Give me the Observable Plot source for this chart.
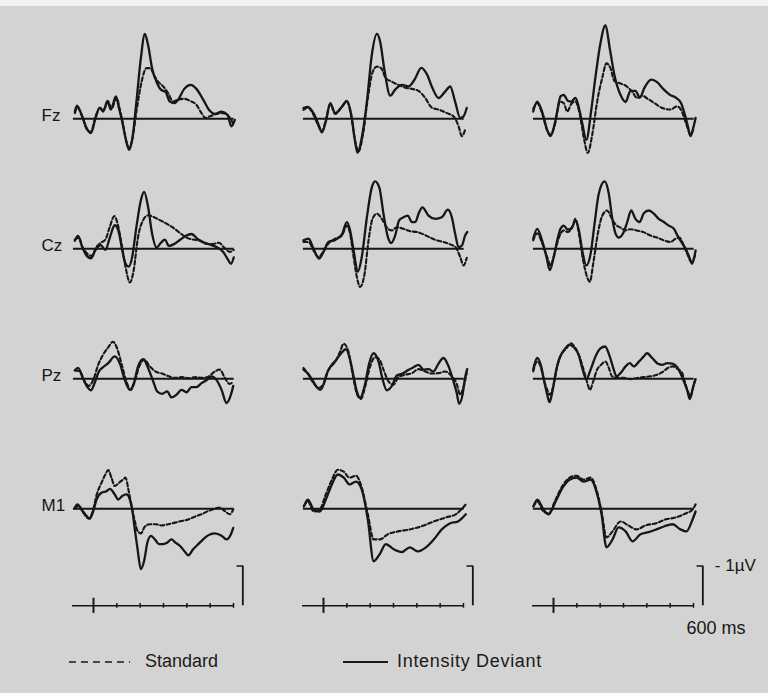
<!DOCTYPE html>
<html>
<head>
<meta charset="utf-8">
<script src="https://cdn.jsdelivr.net/npm/d3@7"></script>
<script src="https://cdn.jsdelivr.net/npm/@observablehq/plot@0.6"></script>
<style>
  body { margin: 0; background: #fff; }
  #wrap { position: relative; width: 768px; height: 693px; overflow: hidden;
          background: linear-gradient(#f2f2f2 0 6px, #d3d3d3 6px);
          font-family: "Liberation Sans", Arial, sans-serif; color: #1a1a1a; }
  #legend { position: relative; height: 53px; }
  #legend .item { position: absolute; top: 11px; font-size: 18px; line-height: 21px; }
  #legend svg { position: absolute; top: 21px; overflow: visible; }
</style>
</head>
<body>
<div id="wrap">
  <div id="chart"></div>
  <div id="legend">
    <svg style="left:69px" width="61" height="2"><line x1="0" x2="61" y1="1" y2="1" stroke="#1a1a1a" stroke-width="1.6" stroke-dasharray="7,5"/></svg>
    <span class="item" style="left:145px">Standard</span>
    <svg style="left:343px" width="45" height="2"><line x1="0" x2="45" y1="1" y2="1" stroke="#1a1a1a" stroke-width="1.8"/></svg>
    <span class="item" style="left:397px;letter-spacing:0.7px">Intensity Deviant</span>
  </div>
</div>
<script>
// ---- categories ----
const rows = ["Fz", "Cz", "Pz", "M1"];          // electrodes
const cols = ["1", "2", "3"];                   // three (unlabelled) conditions
const seriesNames = ["Standard", "Intensity Deviant"];
const timeTicks = [0, 100, 200, 300, 400, 500, 600];   // ms
const timeAxisExtent = [-90, 600];                      // ms
const scaleBarTime = 640;   // ms
const scaleBarSize = 1;     // µV
const scaleBarLabel = "- 1µV";
const timeLabel = "600 ms";

// ---- series values: [time ms, amplitude µV] ----
const Fz1_dev = [[-80,0.18],[-71,0.33],[-51,0.10],[-30,-0.23],[-11,-0.36],[9,0.02],[27,0.28],[41,0.18],[60,0.45],[74,0.23],[96,0.56],[109,0.27],[123,-0.07],[137,-0.48],[153,-0.78],[167,-0.48],[184,0.43],[203,1.52],[220,2.13],[234,1.85],[251,1.27],[270,0.93],[289,0.73],[309,0.67],[327,0.43],[346,0.39],[363,0.48],[389,0.75],[417,0.85],[441,0.75],[470,0.48],[494,0.23],[520,0.12],[549,0.18],[574,0.10],[591,-0.19],[606,-0.03]];
const Fz1_std = [[-80,0.14],[-69,0.28],[-49,0.06],[-27,-0.28],[-11,-0.33],[9,0.06],[27,0.27],[44,0.23],[63,0.43],[77,0.25],[99,0.52],[113,0.23],[127,-0.15],[141,-0.57],[151,-0.73],[166,-0.53],[184,0.18],[206,0.93],[227,1.27],[244,1.27],[260,1.08],[277,0.93],[299,0.81],[320,0.64],[341,0.43],[363,0.48],[389,0.50],[413,0.45],[441,0.35],[463,0.14],[480,0.02],[499,0.06],[527,0.12],[556,0.14],[580,0.06],[599,-0.13]];
const Fz2_dev = [[-86,0.27],[-67,0.30],[-43,0.14],[-21,-0.15],[-7,-0.34],[10,-0.07],[29,0.39],[50,0.14],[76,0.28],[100,0.45],[119,0.10],[133,-0.48],[146,-0.86],[164,-0.48],[186,0.43],[207,1.60],[229,2.13],[243,1.93],[261,1.23],[286,0.58],[307,0.73],[336,0.85],[364,0.81],[390,0.98],[419,1.28],[443,1.12],[467,0.77],[493,0.52],[521,0.68],[543,0.81],[564,0.43],[586,0.02],[600,0.06],[614,0.27]];
const Fz2_std = [[-86,0.22],[-67,0.28],[-43,0.10],[-21,-0.19],[-7,-0.32],[10,-0.03],[29,0.37],[50,0.12],[76,0.27],[100,0.43],[119,0.06],[136,-0.57],[150,-0.82],[169,-0.40],[190,0.52],[211,1.18],[229,1.31],[247,1.27],[267,1.02],[293,0.93],[321,0.85],[350,0.78],[379,0.75],[407,0.70],[436,0.52],[464,0.28],[493,0.23],[529,0.14],[557,0.06],[579,-0.19],[593,-0.44],[607,-0.28]];
const Fz3_dev = [[-87,0.18],[-70,0.43],[-49,0.18],[-27,-0.28],[-13,-0.44],[1,-0.23],[16,0.18],[30,0.56],[44,0.60],[61,0.45],[76,0.43],[94,0.52],[109,0.27],[123,-0.11],[141,-0.53],[161,0.18],[181,1.10],[201,1.89],[223,2.35],[241,1.77],[261,1.10],[287,0.60],[309,0.42],[330,0.70],[351,0.70],[370,0.53],[390,0.78],[419,0.98],[444,0.92],[470,0.75],[499,0.60],[527,0.52],[547,0.39],[561,0.14],[576,-0.19],[587,-0.44],[599,-0.23],[609,0.02]];
const Fz3_std = [[-87,0.25],[-70,0.39],[-49,0.14],[-27,-0.30],[-13,-0.40],[6,-0.15],[27,0.43],[44,0.39],[59,0.18],[76,0.37],[94,0.43],[113,0.10],[130,-0.48],[147,-0.86],[166,-0.40],[187,0.43],[209,1.03],[227,1.39],[244,1.27],[261,0.95],[284,0.89],[309,0.83],[337,0.68],[359,0.52],[380,0.58],[404,0.50],[433,0.39],[466,0.27],[501,0.23],[530,0.31],[551,0.17],[570,-0.15],[587,-0.40],[601,-0.23]];

const Cz1_dev = [[-80,0.20],[-66,0.32],[-49,0.05],[-29,-0.18],[-11,-0.24],[9,-0.03],[31,0.09],[51,-0.03],[70,0.28],[91,0.59],[106,0.47],[123,-0.03],[137,-0.37],[151,-0.45],[166,-0.20],[184,0.55],[203,1.22],[217,1.43],[234,1.05],[251,0.38],[270,0.03],[289,0.15],[306,0.23],[323,0.07],[346,0.12],[370,0.22],[394,0.32],[420,0.37],[449,0.23],[477,0.15],[506,0.09],[531,0.03],[556,-0.08],[577,-0.28],[589,-0.38],[601,-0.22]];
const Cz1_std = [[-80,0.23],[-63,0.28],[-46,0.03],[-26,-0.13],[-9,-0.18],[13,0.05],[31,0.15],[51,0.23],[70,0.55],[89,0.82],[103,0.63],[120,0.13],[137,-0.45],[156,-0.85],[171,-0.58],[191,0.30],[213,0.72],[234,0.84],[256,0.80],[284,0.72],[313,0.63],[341,0.53],[370,0.40],[399,0.28],[427,0.23],[456,0.20],[484,0.12],[513,0.12],[537,0.15],[560,0.03],[584,-0.08],[601,-0.03]];
const Cz2_dev = [[-86,0.21],[-64,0.25],[-43,0],[-19,-0.25],[0,-0.08],[21,0.17],[50,0.22],[79,0.36],[100,0.67],[114,0.46],[129,-0.04],[147,-0.58],[164,-0.21],[186,0.79],[207,1.54],[221,1.69],[239,1.54],[257,0.88],[276,0.29],[290,0.14],[307,0.33],[324,0.71],[343,0.79],[361,0.83],[379,0.67],[393,0.67],[410,0.92],[424,1.04],[450,0.83],[479,0.75],[507,0.79],[533,0.98],[550,0.79],[564,0.38],[579,0.04],[593,0.08],[607,0.33],[616,0.42]];
const Cz2_std = [[-86,0.17],[-64,0.17],[-43,-0.04],[-21,-0.21],[0,-0.06],[21,0.13],[50,0.25],[79,0.33],[100,0.58],[114,0.38],[129,-0.21],[143,-0.71],[157,-0.96],[176,-0.63],[193,0.21],[210,0.75],[229,0.88],[250,0.75],[271,0.54],[293,0.46],[314,0.54],[343,0.50],[371,0.44],[400,0.42],[429,0.36],[457,0.28],[486,0.21],[514,0.17],[543,0.11],[567,0.03],[586,-0.21],[600,-0.42],[614,-0.23]];
const Cz3_dev = [[-87,0.25],[-70,0.50],[-49,0.21],[-30,-0.21],[-16,-0.54],[1,-0.21],[16,0.21],[30,0.50],[44,0.58],[61,0.48],[80,0.54],[94,0.71],[109,0.46],[123,-0.04],[141,-0.42],[159,-0.13],[176,0.63],[194,1.38],[219,1.69],[237,1.38],[251,0.79],[266,0.38],[280,0.28],[301,0.42],[316,0.67],[333,0.96],[351,0.75],[369,0.67],[387,0.89],[409,0.96],[430,0.88],[451,0.75],[473,0.67],[494,0.58],[516,0.50],[533,0.31],[551,0.14],[569,-0.03],[583,-0.23],[594,-0.38],[609,-0.04]];
const Cz3_std = [[-87,0.21],[-70,0.39],[-49,0.14],[-27,-0.21],[-13,-0.42],[4,-0.13],[23,0.28],[44,0.46],[61,0.42],[80,0.54],[94,0.75],[109,0.38],[127,-0.29],[144,-0.71],[156,-0.83],[170,-0.38],[190,0.38],[209,0.83],[230,0.96],[247,0.79],[266,0.61],[287,0.53],[309,0.46],[330,0.49],[356,0.46],[384,0.42],[416,0.33],[444,0.28],[473,0.21],[501,0.17],[523,0.25],[540,0.28],[556,0.11],[573,-0.13],[591,-0.33],[609,-0.13]];

const Pz1_dev = [[-80,0.21],[-66,0.27],[-44,-0.01],[-26,-0.21],[-11,-0.29],[6,-0.09],[23,0.18],[41,0.29],[63,0.39],[91,0.56],[113,0.38],[134,-0.03],[156,-0.28],[173,-0.11],[191,0.31],[213,0.49],[234,0.27],[256,-0.07],[273,-0.32],[294,-0.38],[316,-0.32],[334,-0.47],[356,-0.40],[377,-0.28],[399,-0.34],[420,-0.21],[441,-0.21],[463,-0.11],[484,-0.04],[506,0.06],[527,-0.03],[549,-0.28],[570,-0.61],[589,-0.40],[599,-0.18]];
const Pz1_std = [[-80,0.21],[-59,0.18],[-37,-0.07],[-20,-0.18],[0,-0.01],[20,0.35],[41,0.60],[63,0.79],[84,0.93],[103,0.73],[123,0.31],[141,-0.07],[160,-0.28],[177,-0.07],[196,0.31],[217,0.48],[241,0.31],[266,0.18],[294,0.13],[323,0.06],[351,0.02],[380,0.04],[409,0.01],[437,0.04],[466,0.02],[494,0.06],[520,0.18],[541,0.23],[563,0.02],[584,-0.13],[599,-0.07]];
const Pz2_dev = [[-86,0.23],[-67,0.13],[-47,-0.04],[-29,-0.21],[-14,-0.28],[0,-0.15],[14,0.13],[33,0.33],[53,0.46],[76,0.64],[96,0.74],[114,0.48],[129,0.06],[143,-0.32],[157,-0.48],[176,-0.19],[196,0.39],[214,0.64],[236,0.43],[253,-0.01],[271,-0.29],[293,-0.18],[314,0.08],[339,0.13],[361,0.21],[386,0.29],[407,0.35],[429,0.23],[450,0.24],[471,0.18],[493,0.38],[514,0.52],[536,0.31],[557,-0.07],[571,-0.36],[581,-0.63],[596,-0.40],[607,0.04],[616,0.24]];
const Pz2_std = [[-86,0.27],[-64,0.10],[-43,-0.11],[-21,-0.23],[0,-0.13],[21,0.21],[50,0.43],[71,0.68],[86,0.88],[107,0.68],[124,0.14],[143,-0.38],[160,-0.51],[179,-0.19],[200,0.31],[221,0.54],[239,0.49],[257,0.23],[279,-0.07],[300,-0.15],[321,0.04],[350,0.10],[379,0.14],[407,0.24],[436,0.18],[464,0.13],[493,0.14],[521,0.18],[550,0.06],[571,-0.13],[586,-0.40],[600,-0.21],[614,0.14]];
const Pz3_dev = [[-87,0.23],[-70,0.52],[-53,0.31],[-41,-0.03],[-27,-0.40],[-17,-0.59],[-6,-0.36],[9,0.14],[27,0.54],[47,0.73],[67,0.85],[87,0.79],[109,0.58],[123,0.27],[141,-0.01],[159,0.23],[180,0.56],[201,0.76],[221,0.81],[241,0.56],[256,0.27],[270,0.06],[287,0.14],[309,0.31],[327,0.39],[344,0.31],[366,0.43],[387,0.56],[401,0.64],[423,0.52],[444,0.39],[466,0.35],[487,0.39],[509,0.38],[530,0.29],[544,0.14],[559,-0.07],[573,-0.29],[584,-0.51],[599,-0.19],[609,-0.01]];
const Pz3_std = [[-87,0.18],[-70,0.43],[-53,0.27],[-41,-0.03],[-27,-0.28],[-16,-0.40],[-1,-0.19],[16,0.31],[37,0.64],[56,0.77],[73,0.89],[94,0.77],[116,0.48],[133,0.14],[147,-0.15],[156,-0.28],[170,-0.07],[187,0.23],[204,0.35],[223,0.43],[237,0.27],[251,0.06],[273,0.02],[301,0.02],[330,-0.01],[359,0.02],[387,0.04],[416,0.06],[444,0.10],[470,0.18],[490,0.27],[511,0.31],[533,0.24],[550,0.16],[561,-0.04],[576,-0.32],[587,-0.44],[599,-0.21],[609,0.02]];

const M1_1_dev = [[-80,0.03],[-69,0.11],[-51,-0.02],[-30,-0.18],[-16,-0.25],[-1,-0.06],[13,0.23],[34,0.40],[56,0.44],[70,0.50],[91,0.36],[106,0.23],[123,0.32],[141,0.36],[156,0.23],[166,-0.02],[177,-0.52],[189,-1.02],[203,-1.52],[217,-1.31],[231,-0.85],[246,-0.68],[263,-0.77],[280,-0.89],[299,-0.89],[317,-0.85],[334,-0.77],[351,-0.85],[370,-0.93],[389,-1.06],[406,-1.17],[427,-1.02],[449,-0.89],[470,-0.77],[491,-0.67],[520,-0.62],[549,-0.68],[570,-0.77],[589,-0.64],[599,-0.48]];
const M1_1_std = [[-80,0],[-63,0.07],[-44,-0.10],[-20,-0.25],[-3,-0.06],[14,0.36],[34,0.65],[51,0.86],[63,0.97],[77,0.78],[91,0.57],[109,0.65],[126,0.73],[137,0.78],[151,0.44],[166,-0.02],[177,-0.31],[189,-0.56],[203,-0.62],[220,-0.45],[241,-0.39],[266,-0.39],[291,-0.42],[320,-0.39],[349,-0.35],[377,-0.31],[406,-0.27],[434,-0.20],[463,-0.14],[491,-0.06],[520,0],[541,0.03],[563,-0.06],[584,-0.14],[599,-0.02]];
const M1_2_dev = [[-84,0.06],[-67,0.23],[-42,-0.02],[-16,-0.07],[10,0.23],[36,0.61],[61,0.86],[87,0.78],[112,0.61],[139,0.68],[164,0.48],[190,-0.27],[215,-1.32],[241,-1.14],[267,-0.89],[301,-1.02],[336,-1.09],[370,-0.97],[404,-1.07],[439,-0.97],[473,-0.77],[507,-0.52],[541,-0.37],[576,-0.32],[610,-0.14]];
const M1_2_std = [[-84,0.06],[-67,0.18],[-42,-0.07],[-16,-0.02],[10,0.36],[36,0.73],[61,0.98],[87,0.93],[112,0.78],[139,0.83],[164,0.53],[190,-0.14],[215,-0.77],[241,-0.77],[276,-0.64],[319,-0.57],[370,-0.52],[421,-0.44],[473,-0.32],[524,-0.22],[567,-0.14],[610,0.11]];
const M1_3_dev = [[-86,0.06],[-69,0.23],[-43,-0.02],[-21,-0.14],[9,0.18],[39,0.53],[69,0.73],[99,0.78],[129,0.68],[159,0.73],[184,0.43],[206,-0.14],[227,-0.97],[253,-0.77],[279,-0.47],[309,-0.57],[339,-0.82],[373,-0.64],[407,-0.59],[441,-0.52],[476,-0.44],[510,-0.39],[544,-0.52],[570,-0.57],[596,-0.27],[609,-0.07]];
const M1_3_std = [[-86,0.06],[-69,0.18],[-43,-0.07],[-21,-0.12],[9,0.23],[39,0.58],[69,0.78],[99,0.83],[129,0.73],[159,0.78],[184,0.48],[206,-0.07],[227,-0.72],[253,-0.57],[287,-0.32],[321,-0.42],[356,-0.52],[394,-0.42],[437,-0.37],[480,-0.27],[523,-0.22],[566,-0.12],[596,-0.02],[609,0.11]];

// ---- build the table ----
const panels = [
  {row: "Fz", col: "1", Standard: Fz1_std, "Intensity Deviant": Fz1_dev},
  {row: "Fz", col: "2", Standard: Fz2_std, "Intensity Deviant": Fz2_dev},
  {row: "Fz", col: "3", Standard: Fz3_std, "Intensity Deviant": Fz3_dev},
  {row: "Cz", col: "1", Standard: Cz1_std, "Intensity Deviant": Cz1_dev},
  {row: "Cz", col: "2", Standard: Cz2_std, "Intensity Deviant": Cz2_dev},
  {row: "Cz", col: "3", Standard: Cz3_std, "Intensity Deviant": Cz3_dev},
  {row: "Pz", col: "1", Standard: Pz1_std, "Intensity Deviant": Pz1_dev},
  {row: "Pz", col: "2", Standard: Pz2_std, "Intensity Deviant": Pz2_dev},
  {row: "Pz", col: "3", Standard: Pz3_std, "Intensity Deviant": Pz3_dev},
  {row: "M1", col: "1", Standard: M1_1_std, "Intensity Deviant": M1_1_dev},
  {row: "M1", col: "2", Standard: M1_2_std, "Intensity Deviant": M1_2_dev},
  {row: "M1", col: "3", Standard: M1_3_std, "Intensity Deviant": M1_3_dev}
];
const table = panels.flatMap(p => seriesNames.flatMap(s =>
  p[s].map(([t, v]) => ({row: p.row, col: p.col, series: s, t, v}))));

const timeAxisLevel = -2.44;   // µV below the M1 baseline where the time axis is drawn
const axisRows = cols.map(col => ({col, row: "M1"}));
const tickRows = axisRows.flatMap(a => timeTicks.map(t => ({...a, t, major: t === 0})));
const lastCol = [{col: cols[cols.length - 1], row: "M1"}];
const ink = "#161616";

const chart = Plot.plot({
  width: 768,
  height: 640,
  marginLeft: 71,
  marginRight: 75,
  marginTop: 28.6,
  marginBottom: 88.7,
  x: {domain: timeAxisExtent, axis: null},
  y: {domain: [-1.05, 2.2167], axis: null},
  fx: {domain: cols, paddingInner: 0.3015, paddingOuter: 0, axis: null},
  fy: {domain: rows, paddingInner: 0, paddingOuter: 0, axis: null},
  style: {background: "transparent", fontFamily: "'Liberation Sans', Arial, sans-serif", color: ink},
  marks: [
    Plot.ruleY([0], {x1: -86, x2: 603, stroke: ink, strokeWidth: 2}),
    Plot.line(table.filter(d => d.series === "Standard"),
      {x: "t", y: "v", fx: "col", fy: "row", curve: "monotone-x", stroke: ink, strokeWidth: 2.1, strokeDasharray: "4,2.5"}),
    Plot.line(table.filter(d => d.series === "Intensity Deviant"),
      {x: "t", y: "v", fx: "col", fy: "row", curve: "monotone-x", stroke: ink, strokeWidth: 2.3}),
    Plot.text(rows, {fx: () => cols[0], fy: d => d, x: timeAxisExtent[0], y: 0, text: d => d,
      textAnchor: "start", dx: -31, dy: -3, fontSize: 17, fill: ink}),
    // time axis
    Plot.ruleY(axisRows, {fx: "col", fy: "row", y: timeAxisLevel, x1: timeAxisExtent[0], x2: timeAxisExtent[1], stroke: ink, strokeWidth: 1.5}),
    Plot.ruleX(tickRows, {fx: "col", fy: "row", x: "t",
      y1: d => timeAxisLevel - (d.major ? 0.19 : 0.06), y2: d => timeAxisLevel + (d.major ? 0.19 : 0.06),
      stroke: ink, strokeWidth: d => d.major ? 2 : 1.5}),
    // amplitude scale bar
    Plot.ruleX(axisRows, {fx: "col", fy: "row", x: scaleBarTime, y1: timeAxisLevel, y2: timeAxisLevel + scaleBarSize, stroke: ink, strokeWidth: 1.8}),
    Plot.ruleY(axisRows, {fx: "col", fy: "row", y: timeAxisLevel + scaleBarSize, x1: scaleBarTime - 25, x2: scaleBarTime, stroke: ink, strokeWidth: 1.5}),
    Plot.text(lastCol, {fx: "col", fy: "row", x: scaleBarTime, y: timeAxisLevel + scaleBarSize, text: () => scaleBarLabel,
      textAnchor: "start", dx: 12, fontSize: 17, fill: ink}),
    Plot.text(lastCol, {fx: "col", fy: "row", x: timeAxisExtent[1], y: timeAxisLevel, text: () => timeLabel,
      textAnchor: "start", dx: -7, dy: 22, fontSize: 18, fill: ink})
  ]
});
document.getElementById("chart").appendChild(chart);
</script>
</body>
</html>
